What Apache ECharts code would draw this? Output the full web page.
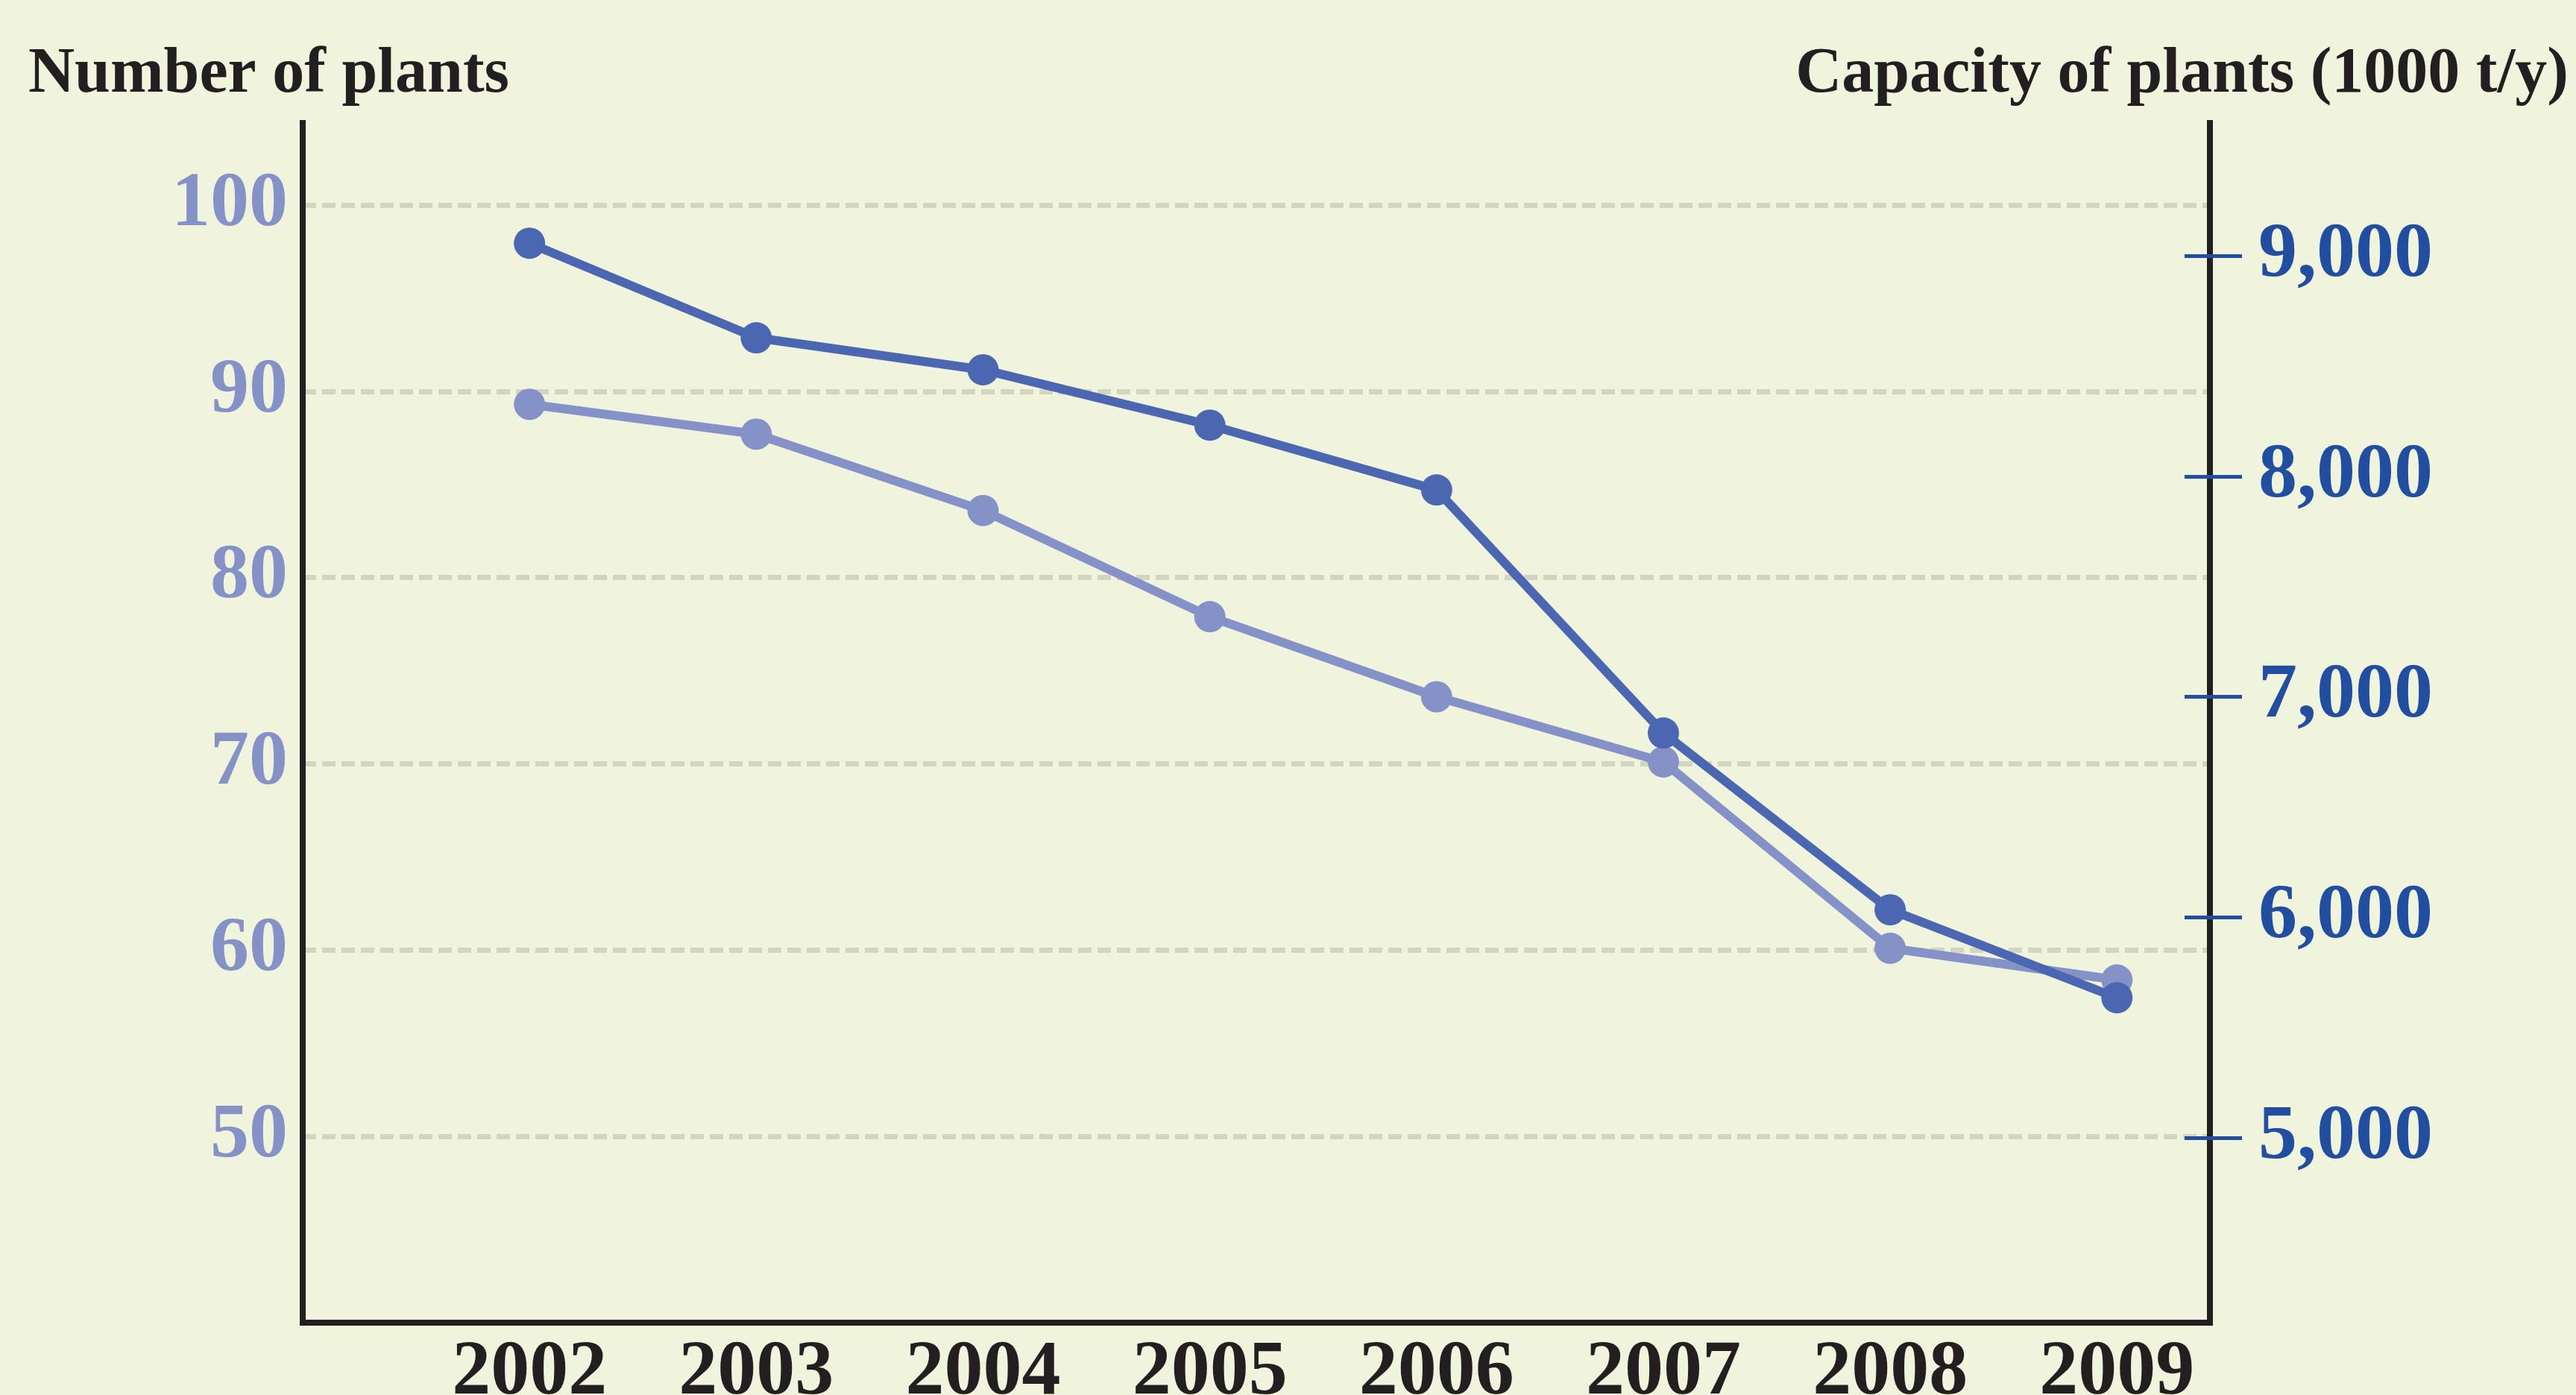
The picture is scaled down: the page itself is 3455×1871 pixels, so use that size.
<!DOCTYPE html>
<html>
<head>
<meta charset="utf-8">
<script src="https://cdn.jsdelivr.net/npm/echarts@6/dist/echarts.min.js"></script>
<style>
  html, body { margin: 0; padding: 0; background: #F0F4DD; }
  #chart { width: 3455px; height: 1871px; }
</style>
</head>
<body>
<div id="chart"></div>
<script>
// data
const years = [2002, 2003, 2004, 2005, 2006, 2007, 2008, 2009]
const plantCount = [89.3, 87.7, 83.6, 77.9, 73.6, 70.1, 60.1, 58.4]
const plantCapacity = [9057, 8628, 8483, 8232, 7938, 6836, 6034, 5635]
const capacityTicks = [5000, 6000, 7000, 8000, 9000]

const FONT = '"Liberation Serif", "DejaVu Serif", serif'
const INK = '#231F20'
const LIGHT = '#8592C8'
const DARK = '#4B67B1'
const TICK_BLUE = '#214EA0'

const chart = echarts.init(document.getElementById('chart'))

const toPairs = (vals) => years.map((y, i) => [y, vals[i]])

const option = {
  backgroundColor: '#F0F4DD',
  animation: false,
  title: [
    {
      text: 'Number of plants',
      left: 38,
      top: 58,
      padding: 0,
      textStyle: { fontFamily: FONT, fontWeight: 'bold', fontSize: 86, color: INK, lineHeight: 86 },
    },
    {
      text: 'Capacity of plants (1000 t/y)',
      right: 10,
      top: 58,
      padding: 0,
      textStyle: { fontFamily: FONT, fontWeight: 'bold', fontSize: 86, color: INK, lineHeight: 86 },
    },
  ],
  grid: {
    left: 406,
    right: 491,
    top: 165,
    bottom: 97,
    containLabel: false,
    outerBoundsMode: 'none',
  },
  xAxis: {
    type: 'value',
    min: 2001,
    max: 2009.41,
    interval: 1,
    axisLine: { show: true, lineStyle: { color: INK, width: 8, cap: 'square' } },
    axisTick: { show: false },
    splitLine: { show: false },
    axisLabel: {
      showMinLabel: false,
      showMaxLabel: false,
      margin: 16,
      fontFamily: FONT,
      fontWeight: 'bold',
      fontSize: 104,
      color: INK,
      formatter: (v) => String(v),
    },
  },
  yAxis: [
    {
      type: 'value',
      position: 'left',
      min: 40,
      max: 104.4,
      interval: 10,
      axisLine: { show: true, lineStyle: { color: INK, width: 8, cap: 'square' } },
      axisTick: { show: false },
      axisLabel: {
        showMinLabel: false,
        showMaxLabel: false,
        margin: 20,
        fontFamily: FONT,
        fontWeight: 'bold',
        fontSize: 104,
        color: LIGHT,
      },
      splitLine: {
        show: true,
        showMinLine: false,
        showMaxLine: false,
        lineStyle: { color: '#D3D5C0', width: 7, type: [18, 8] },
      },
    },
    {
      type: 'value',
      position: 'right',
      min: 4161.5,
      max: 9602,
      axisLine: { show: true, lineStyle: { color: INK, width: 8, cap: 'square' } },
      axisTick: {
        show: true,
        customValues: capacityTicks,
        inside: false,
        length: 43,
        lineStyle: { color: TICK_BLUE, width: 5 },
      },
      axisLabel: {
        customValues: capacityTicks,
        margin: 65,
        fontFamily: FONT,
        fontWeight: 'bold',
        fontSize: 104,
        color: TICK_BLUE,
        formatter: (v) => v.toLocaleString('en-US'),
      },
      splitLine: { show: false },
    },
    {
      // inner half of the right ticks
      type: 'value',
      position: 'right',
      min: 4161.5,
      max: 9602,
      axisLine: { show: false },
      axisTick: {
        show: true,
        customValues: capacityTicks,
        inside: true,
        length: 34,
        lineStyle: { color: TICK_BLUE, width: 5 },
      },
      axisLabel: { show: false },
      splitLine: { show: false },
    },
  ],
  series: [
    {
      name: 'Number of plants',
      type: 'line',
      yAxisIndex: 0,
      data: toPairs(plantCount),
      symbol: 'circle',
      symbolSize: 42,
      lineStyle: { color: LIGHT, width: 12 },
      itemStyle: { color: LIGHT },
      z: 2,
    },
    {
      name: 'Capacity of plants',
      type: 'line',
      yAxisIndex: 1,
      data: toPairs(plantCapacity),
      symbol: 'circle',
      symbolSize: 42,
      lineStyle: { color: DARK, width: 12 },
      itemStyle: { color: DARK },
      z: 3,
    },
  ],
}

chart.setOption(option)
</script>
</body>
</html>
